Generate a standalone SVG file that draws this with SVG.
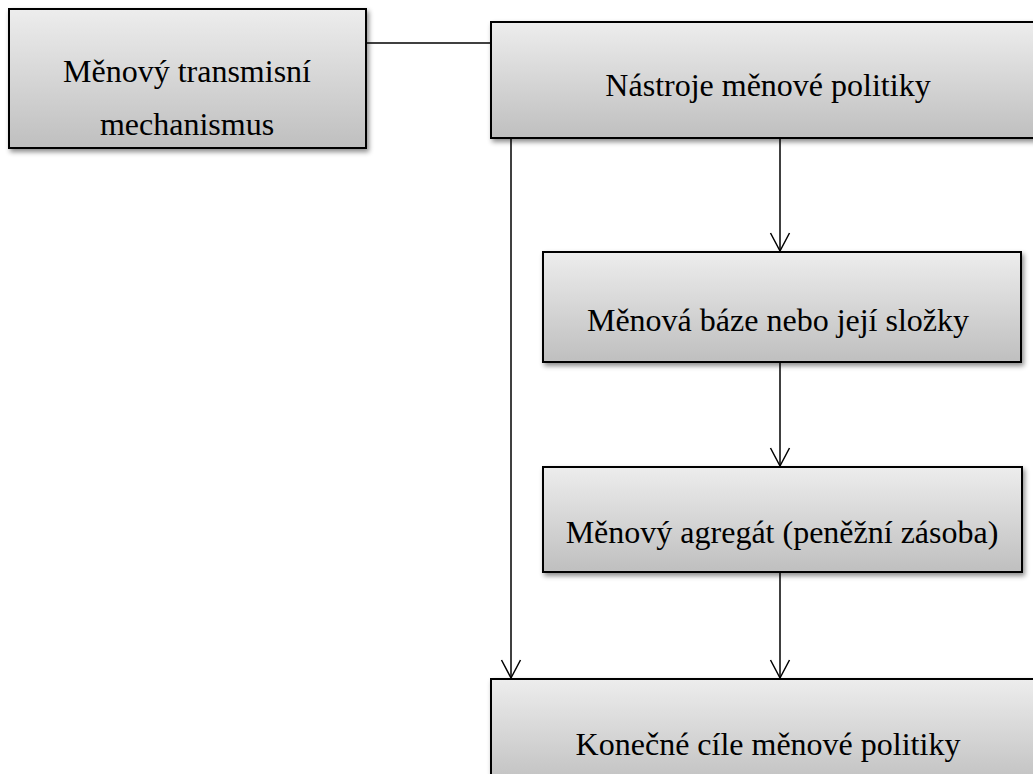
<svg xmlns="http://www.w3.org/2000/svg" width="1033" height="774" viewBox="0 0 1033 774">
<defs>
<linearGradient id="g" x1="0" y1="0" x2="0" y2="1">
<stop offset="0" stop-color="#ededed"/>
<stop offset="1" stop-color="#bfbfbf"/>
</linearGradient>
<filter id="sh" x="-10%" y="-10%" width="120%" height="130%">
<feDropShadow dx="2" dy="3" stdDeviation="2.5" flood-color="#000" flood-opacity="0.45"/>
</filter>
<marker id="arr" markerUnits="userSpaceOnUse" markerWidth="24" markerHeight="24" viewBox="-21 -12 24 24" refX="0" refY="0" orient="auto" overflow="visible">
<path d="M-18,-9.5 L0,0 L-18,9.5" fill="none" stroke="#000" stroke-width="1.5"/>
</marker>
</defs>
<style>
.box{fill:url(#g);stroke:#000;stroke-width:2;filter:url(#sh)}
.t{font-family:"Liberation Serif","Times New Roman",serif;font-size:32px;fill:#000;text-anchor:middle}
.c{fill:none;stroke:#000;stroke-width:1.5}
</style>
<rect width="1033" height="774" fill="#fff"/>
<g id="connectors">
<path class="c" d="M366,43 L490,43"/>
<path class="c" d="M511,138 L511,678" marker-end="url(#arr)"/>
<path class="c" d="M780,138 L780,251" marker-end="url(#arr)"/>
<path class="c" d="M780,362 L780,466" marker-end="url(#arr)"/>
<path class="c" d="M780,572 L780,678" marker-end="url(#arr)"/>
</g>
<g id="node-transmisni">
<rect class="box" x="9" y="9" width="357" height="139"/>
<text class="t" x="187" y="82">Měnový transmisní</text>
<text class="t" x="187" y="135">mechanismus</text>
</g>
<g id="node-nastroje">
<rect class="box" x="491" y="22" width="555" height="116"/>
<text class="t" x="768" y="96">Nástroje měnové politiky</text>
</g>
<g id="node-baze">
<rect class="box" x="543" y="252" width="478" height="110"/>
<text class="t" x="778" y="331">Měnová báze nebo její složky</text>
</g>
<g id="node-agregat">
<rect class="box" x="543" y="467" width="479" height="105"/>
<text class="t" x="782" y="543">Měnový agregát (peněžní zásoba)</text>
</g>
<g id="node-cile">
<rect class="box" x="491" y="679" width="555" height="110"/>
<text class="t" x="768" y="755">Konečné cíle měnové politiky</text>
</g>
</svg>
